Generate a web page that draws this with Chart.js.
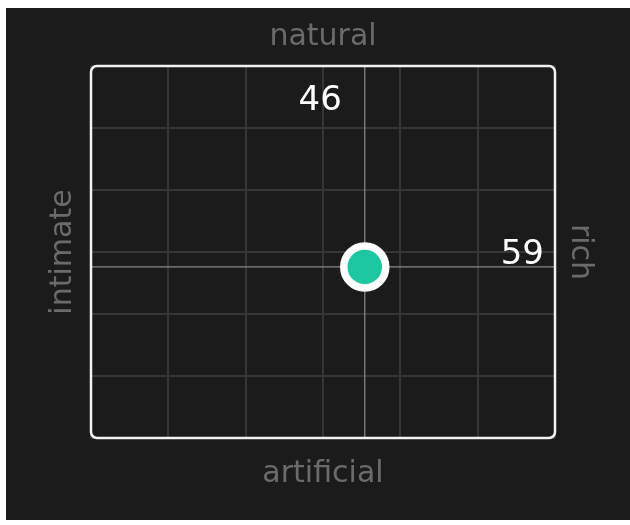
<!DOCTYPE html>
<html>
<head>
<meta charset="utf-8">
<script src="https://cdn.jsdelivr.net/npm/chart.js@4"></script>
<style>
  html, body { margin: 0; padding: 0; background: #ffffff; }
  canvas { display: block; }
</style>
</head>
<body>
<canvas id="c" width="630" height="525"></canvas>
<script>
// ---- data ----
const axisLabels = { top: "natural", bottom: "artificial", left: "intimate", right: "rich" };
const xValue = 59;   // intimate (0) -> rich (100)
const yValue = 46;   // artificial (0) -> natural (100)
const axisMin = 0;
const axisMax = 100;
const gridDivisions = 6;

const gridTicks = Array.from({ length: gridDivisions + 1 }, (_, i) => axisMin + i * (axisMax - axisMin) / gridDivisions);

const bgPlugin = {
  id: 'bg',
  beforeDraw(chart) {
    const ctx = chart.ctx;
    ctx.save();
    ctx.fillStyle = '#ffffff';
    ctx.fillRect(0, 0, chart.width, chart.height);
    ctx.fillStyle = '#1b1b1b';
    ctx.fillRect(6, 8, chart.width - 6, chart.height - 13);
    ctx.restore();
  }
};

const framePlugin = {
  id: 'frame',
  afterDatasetsDraw(chart) {
    const { ctx, chartArea: a, scales } = chart;
    ctx.save();
    // rounded white frame
    ctx.strokeStyle = '#f2f2f2';
    ctx.lineWidth = 2.5;
    ctx.beginPath();
    ctx.roundRect(a.left, a.top, a.right - a.left, a.bottom - a.top, 6);
    ctx.stroke();
    // value labels
    const px = scales.x.getPixelForValue(xValue);
    const py = scales.y.getPixelForValue(yValue);
    ctx.fillStyle = '#ffffff';
    ctx.font = '34px "DejaVu Sans"';
    ctx.textBaseline = 'alphabetic';
    ctx.textAlign = 'right';
    ctx.fillText(String(yValue), px - 23, a.top + 44);
    ctx.fillText(String(xValue), a.right - 11, py - 3);
    ctx.restore();
  }
};

const titleFont = { family: 'DejaVu Sans', size: 30, lineHeight: 1.2 };
const titleColor = '#6b6b6b';
const setTicks = s => { s.ticks = gridTicks.map(v => ({ value: v })); };

new Chart(document.getElementById('c'), {
  type: 'scatter',
  data: {
    datasets: [
      {
        type: 'scatter',
        data: [{ x: xValue, y: yValue }],
        pointRadius: 21,
        pointHoverRadius: 21,
        borderWidth: 7.5,
        backgroundColor: '#1cc7a1',
        borderColor: '#ffffff',
        order: 0
      },
      {
        type: 'line',
        data: [{ x: xValue, y: axisMin }, { x: xValue, y: axisMax }],
        borderColor: '#8a8a8a',
        borderWidth: 1.2,
        pointRadius: 0,
        order: 1
      },
      {
        type: 'line',
        data: [{ x: axisMin, y: yValue }, { x: axisMax, y: yValue }],
        borderColor: '#8a8a8a',
        borderWidth: 1.2,
        pointRadius: 0,
        order: 1
      }
    ]
  },
  options: {
    responsive: false,
    animation: false,
    devicePixelRatio: 1,
    layout: { padding: 0 },
    plugins: { legend: { display: false }, tooltip: { enabled: false } },
    scales: {
      x: {
        type: 'linear', position: 'bottom', min: axisMin, max: axisMax,
        afterBuildTicks: setTicks,
        ticks: { display: false },
        grid: { color: '#363636', lineWidth: 2, drawTicks: false },
        border: { display: false },
        title: { display: true, text: axisLabels.bottom, color: titleColor, font: titleFont, padding: { top: 0, bottom: 33 } },
        afterFit: s => { s.height = 87; }
      },
      x2: {
        type: 'linear', position: 'top', min: axisMin, max: axisMax,
        ticks: { display: false },
        grid: { display: false, drawTicks: false },
        border: { display: false },
        title: { display: true, text: axisLabels.top, color: titleColor, font: titleFont, padding: { top: 19, bottom: 0 } },
        afterFit: s => { s.height = 66; }
      },
      y: {
        type: 'linear', position: 'left', min: axisMin, max: axisMax,
        afterBuildTicks: setTicks,
        ticks: { display: false },
        grid: { color: '#363636', lineWidth: 2, drawTicks: false },
        border: { display: false },
        title: { display: true, text: axisLabels.left, color: titleColor, font: titleFont, padding: { top: 45, bottom: 0 } },
        afterFit: s => { s.width = 91; }
      },
      y2: {
        type: 'linear', position: 'right', min: axisMin, max: axisMax,
        ticks: { display: false },
        grid: { display: false, drawTicks: false },
        border: { display: false },
        title: { display: true, text: axisLabels.right, color: titleColor, font: titleFont, padding: { top: 32, bottom: 0 } },
        afterFit: s => { s.width = 75; }
      }
    }
  },
  plugins: [bgPlugin, framePlugin]
});
</script>
</body>
</html>
